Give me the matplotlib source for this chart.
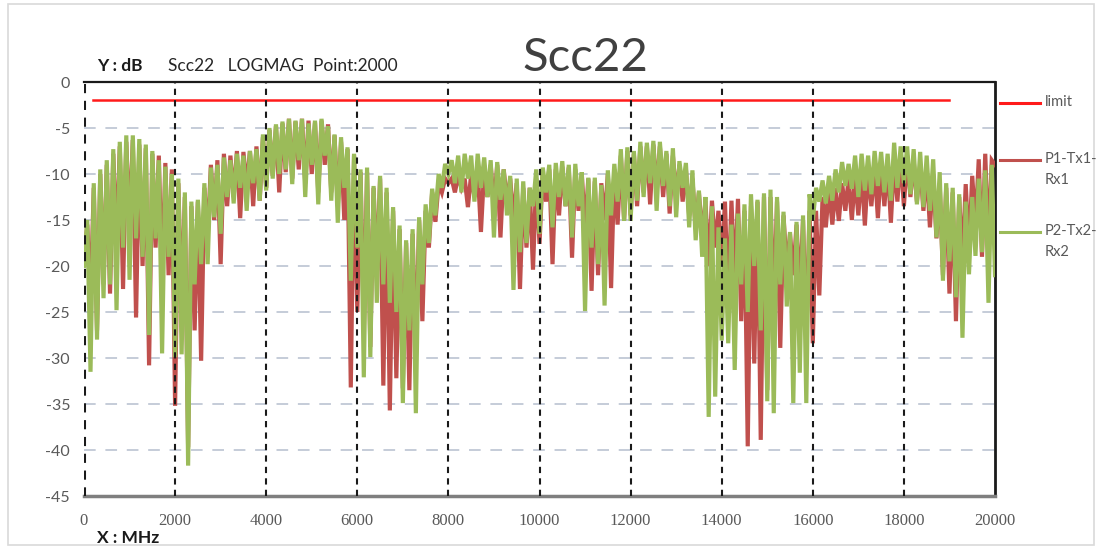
import numpy as np
import matplotlib
matplotlib.use("Agg")
import matplotlib.pyplot as plt
from matplotlib.lines import Line2D
from matplotlib.patches import Rectangle

# ---------------- data ----------------
x_ticks = [0, 2000, 4000, 6000, 8000, 10000, 12000, 14000, 16000, 18000, 20000]
y_ticks = [0, -5, -10, -15, -20, -25, -30, -35, -40, -45]
series_names = ["limit", "P1-Tx1-\nRx1", "P2-Tx2-\nRx2"]
limit_x = [200, 19000]
limit_y = [-2, -2]

# P1-Tx1-Rx1 (dB), trough/peak alternating, one row per 2000 MHz
p1_db = [
    -19, -15.5, -24, -11.5, -27, -10, -22, -9, -23, -7.8, -18, -7, -22.5, -6.5, -16, -6.3, -25.6, -6.8, -20, -7.2, -30.8, -7.8, -18, -8.0, -22, -8.8, -21, -9.5,
    -35.2, -11, -25, -12.5, -39.7, -13.5, -27, -13, -30.3, -11.5, -17, -9.0, -15, -8.5, -19.8, -7.8, -13.5, -8.0, -12.5, -7.5, -14.8, -7.6, -11.5, -7.5, -13.5, -7.0, -12.9, -6.0,
    -11.5, -5.2, -10.2, -4.8, -12, -4.5, -9.8, -4.0, -10.5, -4.3, -9.5, -4.0, -11, -4.2, -10, -4.4, -12, -4.2, -9, -4.6, -12, -5.8, -13.5, -6.5, -15, -7.3, -33.2, -8.0,
    -25, -9.8, -27, -9.8, -28.8, -11.5, -21, -10.5, -33, -12, -35.7, -14, -32.2, -16, -33.3, -17.5, -33.5, -16.5, -30, -15, -26, -14, -18, -12, -15.2, -11, -12, -10.5,
    -11, -10.5, -12, -10.2, -11.5, -10.5, -13.6, -10, -12.5, -9.5, -16.3, -9.5, -12.5, -9.0, -13.5, -9.0, -16.9, -9.5, -13, -10.5, -15, -11, -22.5, -11.5, -18, -11.5, -20.4, -10.5,
    -17.6, -9.8, -13, -9.5, -19.8, -9.5, -14.5, -9.2, -13.5, -9.3, -19.1, -9.5, -14, -10, -16, -10.5, -22.7, -10.8, -21.0, -11, -15, -10, -22.4, -9.5, -15.5, -8.0, -15, -7.5,
    -14.5, -7.8, -13.5, -7.0, -12, -7.0, -13.3, -6.8, -12, -7.0, -12.5, -7.8, -14.3, -8.0, -12.5, -9.0, -13, -9.5, -14.5, -10.5, -16, -12.0, -17, -12.9, -20, -12.9, -18, -14,
    -20, -13, -24, -12.9, -22, -12.7, -26, -14, -39.6, -13.5, -30.6, -13, -38.9, -12.5, -33.5, -12.5, -25, -13, -28.9, -14.5, -20.5, -16.5, -21, -15.5, -23, -15, -28.0, -14,
    -28.4, -14, -23.2, -12.5, -15.8, -11.5, -15.5, -11.5, -15.1, -11, -14, -10.5, -15.0, -10.2, -14.5, -9.5, -15.6, -9.5, -13.5, -9.2, -14.8, -9, -13.5, -8.8, -15.3, -8.5, -13, -8.0,
    -13.5, -8.0, -12.5, -8.5, -13, -9.0, -14, -9.5, -15.8, -10, -17, -11, -21, -11.5, -23, -12, -26, -12.5, -19.8, -11.1, -18.5, -10.2, -15.8, -8.4, -19, -7.8, -18, -8.5,
    -9.0,
]

# P2-Tx2-Rx2 (dB)
p2_db = [
    -20, -15, -31.5, -11, -28, -9.5, -23.5, -8.5, -22, -7.3, -24.8, -6.5, -18, -5.8, -21.5, -5.8, -17, -6.2, -19, -6.8, -27.5, -7.5, -17, -8.5, -29.5, -9.2, -19, -10,
    -29.9, -10.5, -29.6, -12.0, -41.7, -13.0, -22.0, -12.8, -19.8, -11.0, -19.8, -9.3, -14.7, -9.0, -16.5, -8.2, -12.5, -8.5, -13.2, -7.8, -11.5, -8.0, -14.0, -7.5, -11.0, -7.3, -12.9, -5.7,
    -11.8, -5.0, -10.5, -4.6, -10.0, -4.3, -9.5, -4.0, -11.1, -4.2, -8.5, -4.0, -12.5, -4.5, -9.0, -4.2, -13.3, -4.0, -8.0, -4.8, -12.9, -5.7, -15.3, -6.0, -11.5, -7.1, -21.6, -7.8,
    -18, -9.5, -32.1, -9.3, -29.9, -11.3, -24, -10.2, -22, -11.5, -24, -13.6, -25, -15.6, -34.9, -17.2, -27, -16.0, -36.0, -14.7, -22, -13.3, -17.5, -11.6, -14.5, -10.0, -11.5, -8.9,
    -10, -8.5, -11, -8.0, -12, -7.8, -10.5, -8.0, -13, -7.8, -11.5, -8.2, -12.5, -8.5, -16.9, -8.7, -12.8, -9.5, -14.5, -10.2, -22.6, -10.5, -18.5, -10.8, -17.5, -11.5, -13.5, -9.5,
    -16.5, -9.3, -12.0, -9.0, -15.8, -8.8, -12.5, -8.6, -13.5, -9.0, -16.9, -8.9, -13.5, -9.8, -24.9, -10.4, -18, -10.4, -19.8, -11.2, -24.3, -9.6, -14.5, -8.9, -13.0, -7.3, -15.1, -7.1,
    -15.1, -7.5, -12.9, -6.5, -12.5, -6.6, -11.0, -6.4, -14.0, -6.5, -11.3, -7.5, -13.5, -7.2, -14.7, -8.6, -11.5, -8.8, -15.8, -9.6, -17.2, -11.8, -19.0, -12.5, -36.4, -13.5, -34.2, -15.8,
    -28.1, -17.0, -28.4, -15.5, -31.3, -14.3, -22, -13.3, -25, -12.2, -20, -12.8, -27, -12.1, -34.7, -11.7, -36.0, -12.5, -22, -14.1, -24.4, -16.3, -34.9, -15.2, -31.6, -14.5, -34.9, -12.2,
    -15, -11.5, -13, -10.7, -13.2, -10.2, -12.9, -9.5, -12, -8.7, -11.3, -8.9, -11.6, -8.0, -12.5, -7.8, -11.8, -8.0, -12.2, -7.5, -11.3, -7.6, -12.0, -7.8, -12.9, -6.6, -11.5, -7.0,
    -11.0, -7.0, -12.2, -7.3, -13.3, -7.6, -13.6, -8.0, -14.0, -8.4, -16.9, -9.8, -21.6, -11.0, -19.5, -11.5, -23.4, -12.2, -27.8, -13.0, -20.9, -12.5, -18.9, -10.5, -18.5, -9.6, -24.0, -9.0,
    -21.0,
]

# ---------------- style ----------------
col_limit = "#FF1A1A"
col_p1 = "#C0504D"
col_p2 = "#9BBB59"
txt_gray = "#595959"

W, H = 1099, 548
fig = plt.figure(figsize=(W / 100, H / 100), dpi=100)
fig.patch.set_facecolor("white")

L, R, T, B = 84, 995, 82, 496
ax = fig.add_axes([L / W, 1 - B / H, (R - L) / W, (B - T) / H])

freq = np.linspace(x_ticks[0], x_ticks[-1], len(p1_db))

# horizontal grid (below data)
for yv in y_ticks[1:-1]:
    ax.axhline(yv, color="#C5CCD8", lw=1.4, dashes=(6, 5), zorder=1)

ax.plot(limit_x, limit_y, color=col_limit, lw=1.8, zorder=3)
ax.plot(freq, p1_db, color=col_p1, lw=3.0, zorder=3, solid_joinstyle="miter")
ax.plot(freq, p2_db, color=col_p2, lw=3.0, zorder=4, solid_joinstyle="miter")

# vertical grid (above data)
for xv in x_ticks[:-1]:
    ax.axvline(xv, color="#1a1a1a", lw=2.2 if xv == x_ticks[0] else 1.5,
               dashes=(3, 2.5), zorder=5)

ax.set_xlim(x_ticks[0], x_ticks[-1])
ax.set_ylim(y_ticks[-1], y_ticks[0])
ax.set_xticks(x_ticks)
ax.set_yticks(y_ticks)
ax.set_xticklabels([str(v) for v in x_ticks], fontfamily="Liberation Serif",
                   fontsize=12, color=txt_gray)
ax.set_yticklabels([str(v) for v in y_ticks], fontfamily="Lato",
                   fontsize=11.5, color=txt_gray)
ax.tick_params(axis="both", length=0)
ax.tick_params(axis="x", pad=12)
ax.tick_params(axis="y", pad=10)

ax.spines["left"].set_visible(False)
ax.spines["top"].set_color("#1a1a1a")
ax.spines["top"].set_linewidth(1.6)
ax.spines["right"].set_color("#1a1a1a")
ax.spines["right"].set_linewidth(2.0)
ax.spines["bottom"].set_color("#7F7F7F")
ax.spines["bottom"].set_linewidth(2.5)

# texts
fig.text(97 / W, 1 - 66 / H, "Y : dB", fontsize=12.5, fontweight="bold",
         color="#1a1a1a", va="center", ha="left", fontfamily="Lato")
fig.text(168 / W, 1 - 66 / H, "Scc22   LOGMAG  Point:2000", fontsize=12.5,
         color="#262626", va="center", ha="left", fontfamily="Lato")
fig.text(585 / W, 1 - 58 / H, "Scc22", fontsize=34, color="#404040",
         va="center", ha="center", fontfamily="Lato")
fig.text(97 / W, 1 - 538 / H, "X : MHz", fontsize=12.5, fontweight="bold",
         color="#1a1a1a", va="center", ha="left", fontfamily="Lato")

# legend (manual)
leg_cols = [col_limit, col_p1, col_p2]
leg_y = [103, 160, 232]
for name, c, yy in zip(series_names, leg_cols, leg_y):
    fig.add_artist(Line2D([1000 / W, 1040 / W], [1 - yy / H, 1 - yy / H],
                          color=c, lw=2.2, transform=fig.transFigure))
    fig.text(1045 / W, 1 - (yy - 8) / H, name, fontsize=10.5, color=txt_gray,
             va="top", ha="left", fontfamily="Lato", linespacing=1.6)

# outer frame
fig.add_artist(Rectangle((8 / W, 1 - 545 / H), (1094 - 8) / W, (545 - 4) / H,
                         transform=fig.transFigure, fill=False,
                         edgecolor="#D9D9D9", lw=1.2))

fig.savefig("out.png", dpi=100)
